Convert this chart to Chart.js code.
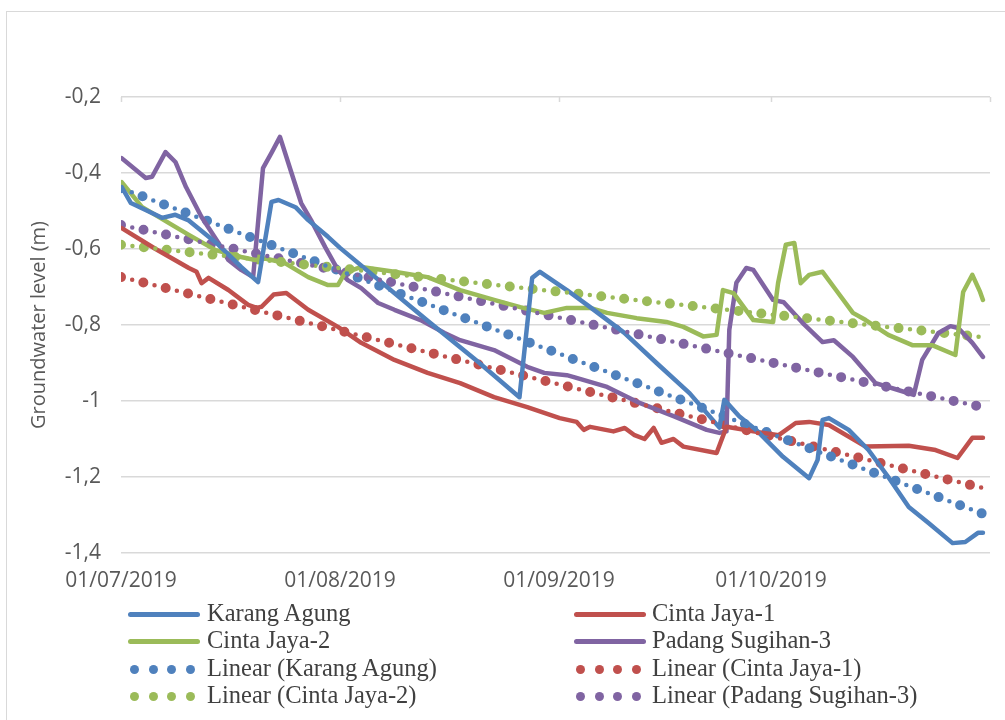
<!DOCTYPE html>
<html>
<head>
<meta charset="utf-8">
<script src="https://cdn.jsdelivr.net/npm/chart.js@4.4.1/dist/chart.umd.min.js"></script>
<style>
html,body{margin:0;padding:0;background:#fff;}
#wrap{position:relative;width:1005px;height:720px;overflow:hidden;background:#fff;}
#frame{position:absolute;left:6px;top:11px;width:1100px;height:800px;border:1.5px solid #d9d9d9;box-sizing:border-box;}
#chart{position:absolute;left:0;top:0;}
#legend{position:absolute;left:0;top:0;width:1005px;height:720px;pointer-events:none;
  font-family:'Liberation Serif','Times New Roman',serif;font-size:24.5px;color:#404040;}
.lg-sample{position:absolute;}
.lg-line{height:5px;border-radius:3px;}
.lg-dot{position:absolute;width:9px;height:9px;border-radius:50%;}
.lg-text{position:absolute;height:28px;line-height:28px;white-space:nowrap;}
</style>
</head>
<body>
<div id="wrap">
  <div id="frame"></div>
  <canvas id="chart" width="1005" height="720"></canvas>
  <div id="legend"></div>
</div>
<script>
// ---------- DATA (x = days since 01/07/2019, y = groundwater level in m) ----------
const xTickDays   = [0, 31, 62, 92, 123];
const xTickLabels = ['01/07/2019', '01/08/2019', '01/09/2019', '01/10/2019', ''];
const yTickValues = [-1.4, -1.2, -1.0, -0.8, -0.6, -0.4, -0.2];
const yTickLabels = ['-1,4', '-1,2', '-1', '-0,8', '-0,6', '-0,4', '-0,2'];

const seriesNames = ['Karang Agung', 'Cinta Jaya-1', 'Cinta Jaya-2', 'Padang Sugihan-3'];

const karangAgungDays = [0.1,1.4,5.8,7.7,9.5,13.8,17,19.4,21.3,22.3,24.7,26.5,29.3,31,43.4,50.4,56.4,58.2,59.3,63.1,66.4,71.2,75.8,80.5,84.7,85.4,87.5,89.9,93.7,97.4,98.6,99.3,100.2,103,105.8,108.6,111.5,114.3,117.7,119.5,121.3,122];
const karangAgungLevel = [-0.437,-0.479,-0.518,-0.51,-0.524,-0.589,-0.647,-0.687,-0.476,-0.471,-0.49,-0.524,-0.568,-0.597,-0.789,-0.895,-0.99,-0.676,-0.66,-0.708,-0.753,-0.82,-0.9,-0.98,-1.07,-0.997,-1.04,-1.076,-1.147,-1.203,-1.155,-1.05,-1.045,-1.076,-1.129,-1.2,-1.279,-1.321,-1.374,-1.371,-1.347,-1.347];

const cintaJaya1Days = [0.1,4.9,9.6,10.7,11.4,12.4,15.2,18,19.2,19.9,21.6,23.4,26.5,30.7,34,38.7,43.4,48,52.8,57.5,62.1,64.5,65.5,66.4,69.7,71.3,72.6,74.1,75.4,76.5,78.2,79.6,84.3,85.7,89.5,93.1,95.5,97.4,100.2,105.4,111.5,115.3,118.4,120.5,122];
const cintaJaya1Level = [-0.545,-0.6,-0.65,-0.66,-0.69,-0.676,-0.708,-0.747,-0.755,-0.752,-0.72,-0.716,-0.76,-0.805,-0.847,-0.892,-0.926,-0.953,-0.99,-1.016,-1.045,-1.055,-1.076,-1.068,-1.08,-1.071,-1.089,-1.1,-1.071,-1.11,-1.1,-1.12,-1.137,-1.068,-1.08,-1.09,-1.058,-1.055,-1.063,-1.12,-1.118,-1.129,-1.15,-1.097,-1.097];

const cintaJaya2Days = [0.1,2.95,6.8,9.6,13.4,17,19,20.4,23.2,26.5,29.3,30.7,31.7,34,38.7,43.4,48,52.8,56.5,59.9,63.1,66.4,68.8,73,77.2,79.6,82.4,84.3,85.2,86.7,89.5,92.3,93,94.1,95.3,96.2,97.4,99.3,101.2,103.6,105.4,108.6,112,114.8,118.1,119.2,120.5,121.6,122];
const cintaJaya2Level = [-0.424,-0.489,-0.532,-0.563,-0.603,-0.621,-0.629,-0.625,-0.637,-0.674,-0.695,-0.695,-0.663,-0.647,-0.66,-0.674,-0.708,-0.734,-0.753,-0.768,-0.755,-0.755,-0.768,-0.782,-0.792,-0.805,-0.83,-0.826,-0.708,-0.716,-0.787,-0.792,-0.69,-0.589,-0.584,-0.69,-0.668,-0.66,-0.708,-0.768,-0.787,-0.826,-0.853,-0.853,-0.879,-0.713,-0.668,-0.713,-0.734];

const padangSugihan3Days = [0.1,3.5,4.4,6.3,7.7,9.2,11.4,13.8,15.2,17,18.7,20.1,21.3,22.5,24,25.5,26.9,28.9,30.7,32.1,34,36.4,38.7,42.4,45.8,48,52.8,57.5,59.9,63.1,64.1,68.8,73.4,78.2,82.9,84.7,85.7,86.1,87.1,88.5,89.5,92.3,93.8,96.5,99.3,100.9,103.6,106.8,110,112.2,113.4,115.7,117.4,118.5,120.5,122];
const padangSugihan3Level = [-0.361,-0.413,-0.41,-0.345,-0.371,-0.437,-0.516,-0.584,-0.629,-0.655,-0.674,-0.387,-0.347,-0.305,-0.392,-0.479,-0.524,-0.595,-0.655,-0.682,-0.703,-0.742,-0.76,-0.787,-0.821,-0.84,-0.866,-0.91,-0.926,-0.932,-0.937,-0.963,-1.005,-1.04,-1.076,-1.084,-1.08,-0.813,-0.689,-0.65,-0.655,-0.734,-0.74,-0.795,-0.845,-0.84,-0.884,-0.953,-0.971,-0.984,-0.892,-0.821,-0.803,-0.808,-0.847,-0.884];

// linear trend lines (end points)
const trendDays = [0, 122];
const karangAgungTrend    = [-0.44, -1.297];
const cintaJaya1Trend     = [-0.674, -1.229];
const cintaJaya2Trend     = [-0.589, -0.832];
const padangSugihan3Trend = [-0.537, -1.016];

// ---------- STYLE ----------
const colors = ['#4F81BD', '#C0504D', '#9BBB59', '#8064A2'];
const tickFont = "'Open Sans', 'DejaVu Sans', sans-serif";

function toPoints(xs, ys){ return xs.map((x, i) => ({x: x, y: ys[i]})); }

const seriesDays  = [karangAgungDays, cintaJaya1Days, cintaJaya2Days, padangSugihan3Days];
const seriesLevel = [karangAgungLevel, cintaJaya1Level, cintaJaya2Level, padangSugihan3Level];
const seriesTrend = [karangAgungTrend, cintaJaya1Trend, cintaJaya2Trend, padangSugihan3Trend];

const datasets = [];
seriesNames.forEach((name, i) => {
  datasets.push({
    label: name,
    data: toPoints(seriesDays[i], seriesLevel[i]),
    borderColor: colors[i], backgroundColor: colors[i],
    borderWidth: 4.5, pointRadius: 0, tension: 0, fill: false,
    borderCapStyle: 'round', borderJoinStyle: 'round'
  });
});
seriesNames.forEach((name, i) => {
  datasets.push({
    label: 'Linear (' + name + ')',
    trend: true,
    data: toPoints(trendDays, seriesTrend[i]),
    borderColor: colors[i], backgroundColor: colors[i],
    borderWidth: 10, borderDash: [0, 23], borderCapStyle: 'round',
    pointRadius: 0, tension: 0, fill: false
  });
});

// small intermediate dots of the trend lines + short tick marks on the top axis line
const extras = {
  id: 'extras',
  afterDatasetsDraw(chart){
    const c = chart.ctx, a = chart.chartArea;
    chart.data.datasets.forEach((ds, i) => {
      if (!ds.trend) return;
      const pts = chart.getDatasetMeta(i).data;
      c.save();
      c.beginPath(); c.rect(a.left, a.top - 6, a.right - a.left, a.bottom - a.top + 12); c.clip();
      c.strokeStyle = ds.borderColor; c.lineWidth = 4.5; c.lineCap = 'round';
      c.setLineDash([0, 23]); c.lineDashOffset = -11.5;
      c.beginPath(); c.moveTo(pts[0].x, pts[0].y);
      for (let k = 1; k < pts.length; k++) c.lineTo(pts[k].x, pts[k].y);
      c.stroke();
      c.restore();
    });
  },
  afterDraw(chart){
    const c = chart.ctx, a = chart.chartArea, xs = chart.scales.x;
    c.save();
    c.strokeStyle = '#d9d9d9'; c.lineWidth = 1.5;
    xTickDays.forEach(d => {
      const px = Math.round(xs.getPixelForValue(d)) + 0.5;
      c.beginPath(); c.moveTo(px, a.top); c.lineTo(px, a.top + 5); c.stroke();
    });
    c.restore();
  }
};

const chart = new Chart(document.getElementById('chart').getContext('2d'), {
  type: 'line',
  data: { datasets: datasets },
  options: {
    responsive: false, animation: false,
    layout: { padding: { left: 0, right: 10, top: 97, bottom: 0 } },
    plugins: { legend: { display: false }, tooltip: { enabled: false } },
    scales: {
      x: {
        type: 'linear', position: 'bottom', min: 0, max: 123,
        afterBuildTicks: s => { s.ticks = xTickDays.map(v => ({ value: v })); },
        afterFit: s => { s.height = 720 - 553; },
        grid: { display: false, drawTicks: false }, border: { display: false },
        ticks: {
          autoSkip: false, maxRotation: 0, padding: 15, color: '#595959',
          font: { family: tickFont, size: 21 },
          callback: (v, idx) => xTickLabels[idx]
        }
      },
      y: {
        min: -1.4, max: -0.2,
        afterBuildTicks: s => { s.ticks = yTickValues.map(v => ({ value: v })); },
        afterFit: s => { s.width = 121; },
        grid: { color: '#d9d9d9', lineWidth: 1.5, drawTicks: false }, border: { display: false },
        ticks: {
          padding: 20, color: '#595959', font: { family: tickFont, size: 21 },
          callback: (v, idx) => yTickLabels[idx]
        },
        title: {
          display: true, text: 'Groundwater level (m)', color: '#595959',
          font: { family: tickFont, size: 20 }, padding: { top: 27, bottom: 0 }
        }
      }
    }
  },
  plugins: [extras]
});

// ---------- LEGEND (two columns, built from the chart's datasets) ----------
const legendCols = [{ s: 128, t: 207 }, { s: 574, t: 652 }];
const legendRows = [614, 641, 669, 696];
const legendEl = document.getElementById('legend');
chart.data.datasets.forEach((ds, i) => {
  const col = legendCols[i % 2], rowY = legendRows[Math.floor(i / 2)];
  if (ds.trend) {
    for (let k = 0; k < 4; k++) {
      const d = document.createElement('div');
      d.className = 'lg-dot';
      d.style.background = ds.borderColor;
      d.style.left = (col.s + 2 + k * 18.6) + 'px';
      d.style.top = (rowY - 4.5) + 'px';
      legendEl.appendChild(d);
    }
  } else {
    const l = document.createElement('div');
    l.className = 'lg-sample lg-line';
    l.style.background = ds.borderColor;
    l.style.left = col.s + 'px'; l.style.width = '72px';
    l.style.top = (rowY - 2.5) + 'px';
    legendEl.appendChild(l);
  }
  const t = document.createElement('div');
  t.className = 'lg-text';
  t.textContent = ds.label;
  t.style.left = col.t + 'px';
  t.style.top = (rowY - 15) + 'px';
  legendEl.appendChild(t);
});
</script>
</body>
</html>
